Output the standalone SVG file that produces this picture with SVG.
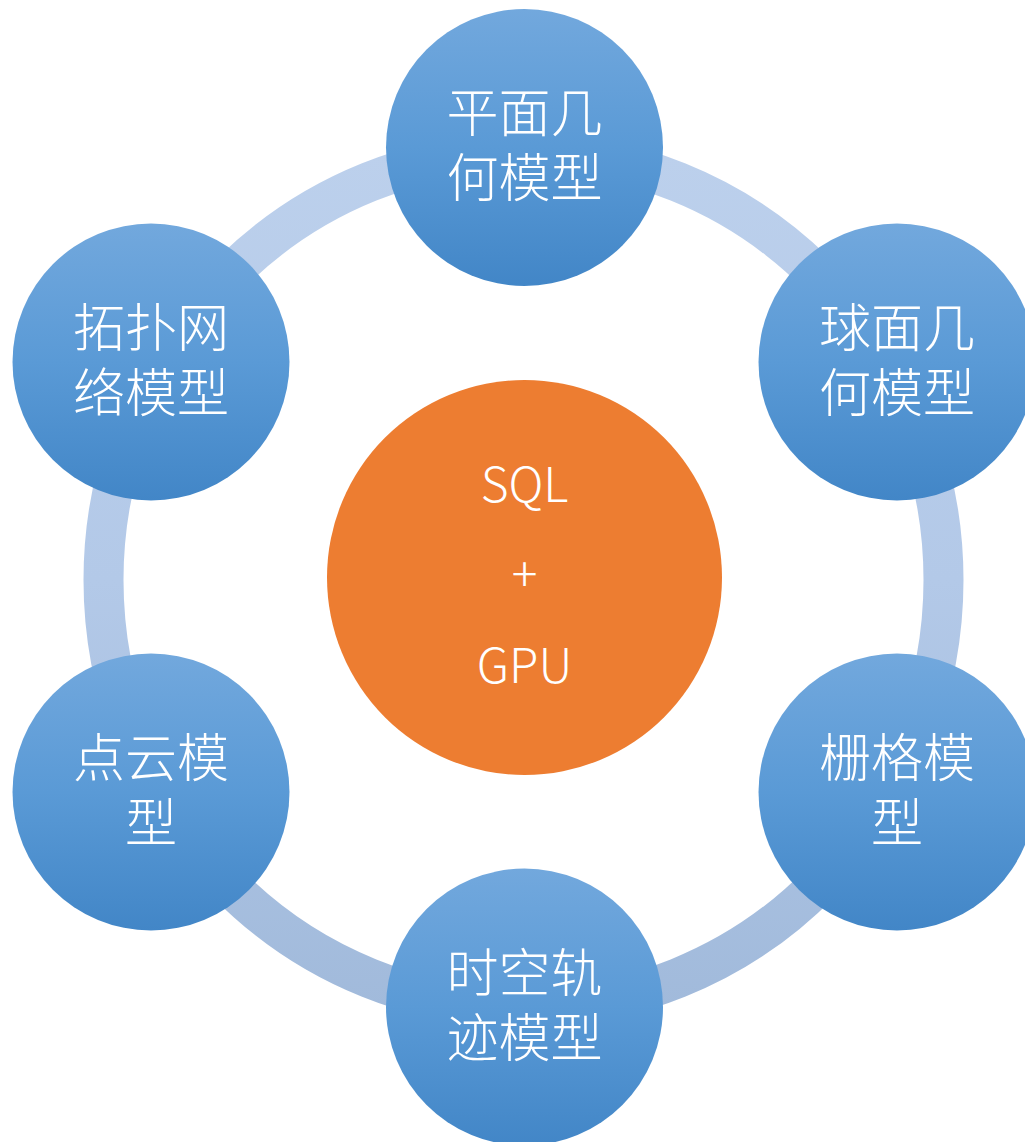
<svg xmlns="http://www.w3.org/2000/svg" width="1025" height="1142" viewBox="0 0 1025 1142">
<style>
.node{fill:url(#gNode);}
.lbl{fill:#ffffff;font-family:"Noto Sans CJK SC","Microsoft YaHei",sans-serif;font-size:52px;font-weight:300;text-anchor:middle;}
.lat{fill:#ffffff;font-family:"Noto Sans CJK SC","Open Sans",sans-serif;font-size:48px;font-weight:300;text-anchor:middle;}
</style>
<defs>
<linearGradient id="gNode" x1="0" y1="0" x2="0" y2="1">
<stop offset="0" stop-color="#72a8dd"/>
<stop offset="0.5" stop-color="#5a9ad6"/>
<stop offset="1" stop-color="#4286c7"/>
</linearGradient>
<linearGradient id="gRing" gradientUnits="userSpaceOnUse" x1="0" y1="150" x2="0" y2="1010">
<stop offset="0" stop-color="#bcd0ec"/>
<stop offset="0.5" stop-color="#b3c9e8"/>
<stop offset="1" stop-color="#a1badb"/>
</linearGradient>
</defs>
<g id="connectors">
<ellipse cx="523.5" cy="580" rx="420" ry="428" fill="none" stroke="url(#gRing)" stroke-width="40"/>
</g>
<g id="center">
<circle cx="524.5" cy="577.5" r="197.5" fill="#ed7d31"/>
<text class="lat" x="524.5" y="502">SQL</text>
<text class="lat" x="524.5" y="592">+</text>
<text class="lat" x="524.5" y="683">GPU</text>
</g>
<g id="n-top">
<circle class="node" cx="524.5" cy="147.5" r="138.5"/>
<text class="lbl" x="524.5" y="132">平面几</text>
<text class="lbl" x="524.5" y="197">何模型</text>
</g>
<g id="n-topleft">
<circle class="node" cx="151" cy="362" r="138.5"/>
<text class="lbl" x="151" y="347">拓扑网</text>
<text class="lbl" x="151" y="412">络模型</text>
</g>
<g id="n-topright">
<circle class="node" cx="897" cy="362" r="138.5"/>
<text class="lbl" x="897" y="347">球面几</text>
<text class="lbl" x="897" y="412">何模型</text>
</g>
<g id="n-bottomleft">
<circle class="node" cx="151" cy="792" r="138.5"/>
<text class="lbl" x="151" y="777">点云模</text>
<text class="lbl" x="151" y="842">型</text>
</g>
<g id="n-bottomright">
<circle class="node" cx="897" cy="792" r="138.5"/>
<text class="lbl" x="897" y="777">栅格模</text>
<text class="lbl" x="897" y="842">型</text>
</g>
<g id="n-bottom">
<circle class="node" cx="524.5" cy="1007" r="138.5"/>
<text class="lbl" x="524.5" y="992">时空轨</text>
<text class="lbl" x="524.5" y="1057">迹模型</text>
</g>
</svg>
